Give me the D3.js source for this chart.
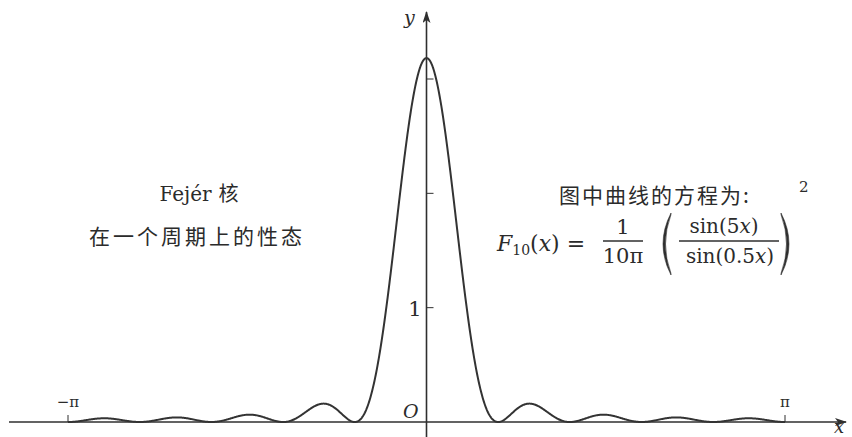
<!DOCTYPE html>
<html>
<head>
<meta charset="utf-8">
<script src="https://cdn.jsdelivr.net/npm/d3@7"></script>
<style>
  html, body { margin: 0; padding: 0; background: #fff; }
  svg { display: block; }
  .serif { font-family: "DejaVu Serif", "Liberation Serif", serif; fill: #2b2b2b; }
  .cjk { font-family: "Noto Sans CJK SC", sans-serif; fill: #2b2b2b; }
</style>
</head>
<body>
<svg id="chart" width="852" height="437"></svg>
<script>
// Fejér kernel parameters: order n and the plotted period
const kernelOrder = [10];
const period = [-Math.PI, Math.PI];

// Axis ticks and their labels
const xTicks = [-Math.PI, Math.PI];
const xTickLabels = ["\u2212\u03C0", "\u03C0"];
const yTicks = [1, 2, 3];
const yTickLabels = ["1", "", ""];

// Annotation text
const titleLines = ["Fejér 核", "在一个周期上的性态"];
const equationCaption = ["图中曲线的方程为:"];

const W = 852, H = 437;
const svg = d3.select("#chart");
const ink = "#2f2f2f";

// Scales: origin at (426, 422), about 114 px per unit on both axes
const x = d3.scaleLinear().domain(period).range([68, 785]);
const y = d3.scaleLinear().domain([0, 3]).range([422, 79]);

// F_n(x) = 1/(nπ) * (sin(n x / 2) / sin(x / 2))^2, limit n/π at x = 0
function fejer(n, t) {
  const s = Math.sin(t / 2);
  if (Math.abs(s) < 1e-9) return n / Math.PI;
  const r = Math.sin(n * t / 2) / s;
  return r * r / (n * Math.PI);
}
const n = kernelOrder[0];
const samples = d3.range(0, 1201).map(i => period[0] + (period[1] - period[0]) * i / 1200);
const curve = samples.map(t => [t, fejer(n, t)]);

// Arrowhead marker
const defs = svg.append("defs");
defs.append("marker")
  .attr("id", "arrow")
  .attr("viewBox", "0 0 12 8")
  .attr("refX", 11).attr("refY", 4)
  .attr("markerWidth", 12).attr("markerHeight", 8)
  .attr("markerUnits", "userSpaceOnUse")
  .attr("orient", "auto")
  .append("path")
  .attr("d", "M0,0 L12,4 L0,8 L3,4 Z")
  .attr("fill", ink);

// x axis
svg.append("line")
  .attr("x1", 9).attr("x2", 846)
  .attr("y1", y(0)).attr("y2", y(0))
  .attr("stroke", ink).attr("stroke-width", 1.6)
  .attr("marker-end", "url(#arrow)");

// y axis
svg.append("line")
  .attr("x1", x(0)).attr("x2", x(0))
  .attr("y1", H).attr("y2", 12)
  .attr("stroke", ink).attr("stroke-width", 1.6)
  .attr("marker-end", "url(#arrow)");

// x ticks (short marks above the axis)
svg.selectAll(".xtick").data(xTicks).enter().append("line")
  .attr("x1", d => x(d)).attr("x2", d => x(d))
  .attr("y1", y(0)).attr("y2", y(0) - 7)
  .attr("stroke", ink).attr("stroke-width", 1);
svg.selectAll(".xlab").data(xTicks).enter().append("text")
  .attr("class", "serif")
  .attr("x", d => x(d)).attr("y", y(0) - 15)
  .attr("text-anchor", "middle")
  .attr("font-size", 15)
  .text((d, i) => xTickLabels[i]);

// y ticks (short marks to the right of the axis)
svg.selectAll(".ytick").data(yTicks).enter().append("line")
  .attr("x1", x(0)).attr("x2", x(0) + 7)
  .attr("y1", d => y(d)).attr("y2", d => y(d))
  .attr("stroke", ink).attr("stroke-width", 1);
svg.selectAll(".ylab").data(yTicks).enter().append("text")
  .attr("class", "serif")
  .attr("x", x(0) - 5).attr("y", d => y(d) + 8)
  .attr("text-anchor", "end")
  .attr("font-size", 21)
  .text((d, i) => yTickLabels[i]);

// axis names and origin
svg.append("text").attr("class", "serif")
  .attr("x", 404).attr("y", 24)
  .attr("font-size", 19).attr("font-style", "italic").text("y");
svg.append("text").attr("class", "serif")
  .attr("x", 834).attr("y", 433)
  .attr("font-size", 18).attr("font-style", "italic").text("x");
svg.append("text").attr("class", "serif")
  .attr("x", 403).attr("y", 418)
  .attr("font-size", 19).attr("font-style", "italic").text("O");

// the kernel curve
const line = d3.line().x(d => x(d[0])).y(d => y(d[1])).curve(d3.curveLinear);
svg.append("path")
  .datum(curve)
  .attr("d", line)
  .attr("fill", "none")
  .attr("stroke", "#333")
  .attr("stroke-width", 2)
  .attr("stroke-linejoin", "round");

// left annotation
const t1 = svg.append("text").attr("class", "serif")
  .attr("x", 199).attr("y", 201)
  .attr("text-anchor", "middle").attr("font-size", 20);
t1.append("tspan").text(titleLines[0].split(" ")[0]);
t1.append("tspan").attr("class", "cjk").attr("dx", 7).attr("font-size", 20)
  .text(titleLines[0].split(" ")[1]);
svg.append("text").attr("class", "cjk")
  .attr("x", 197).attr("y", 244)
  .attr("text-anchor", "middle").attr("font-size", 21)
  .attr("letter-spacing", 3)
  .text(titleLines[1]);

// right annotation: caption and equation
svg.append("text").attr("class", "cjk")
  .attr("x", 655).attr("y", 203)
  .attr("text-anchor", "middle").attr("font-size", 21)
  .attr("letter-spacing", 2)
  .text(equationCaption[0]);

const eq = svg.append("g").attr("class", "serif");
const lhs = eq.append("text").attr("x", 497).attr("y", 251).attr("font-size", 22);
lhs.append("tspan").attr("font-style", "italic").text("F");
lhs.append("tspan").attr("font-size", 14).attr("dy", 4).text("10");
lhs.append("tspan").attr("dy", -4).text("(");
lhs.append("tspan").attr("font-style", "italic").text("x");
lhs.append("tspan").text(")");
eq.append("text").attr("x", 576).attr("y", 251).attr("font-size", 22)
  .attr("text-anchor", "middle").text("=");

// 1 / (10π)
eq.append("text").attr("x", 623).attr("y", 234).attr("font-size", 21)
  .attr("text-anchor", "middle").text("1");
eq.append("line").attr("x1", 603).attr("x2", 643).attr("y1", 241).attr("y2", 241)
  .attr("stroke", ink).attr("stroke-width", 1.3);
eq.append("text").attr("x", 623).attr("y", 263).attr("font-size", 21)
  .attr("text-anchor", "middle").text("10\u03C0");

// big parentheses
function paren(cx, dir) {
  const top = 213, bot = 275, mid = (top + bot) / 2;
  const outer = cx - dir * 16, inner = cx - dir * 11;
  return `M${cx},${top} Q${outer},${mid} ${cx},${bot} L${cx},${bot - 1.5} Q${inner},${mid} ${cx},${top + 1.5} Z`;
}
eq.append("path").attr("d", paren(671, 1)).attr("fill", ink).attr("stroke", ink).attr("stroke-width", 0.6);
eq.append("path").attr("d", paren(781, -1)).attr("fill", ink).attr("stroke", ink).attr("stroke-width", 0.6);

// sin(5x) / sin(0.5x)
const num = eq.append("text").attr("x", 724).attr("y", 233).attr("font-size", 20)
  .attr("text-anchor", "middle");
num.append("tspan").text("sin(5");
num.append("tspan").attr("font-style", "italic").text("x");
num.append("tspan").text(")");
eq.append("line").attr("x1", 679).attr("x2", 779).attr("y1", 241).attr("y2", 241)
  .attr("stroke", ink).attr("stroke-width", 1.3);
const den = eq.append("text").attr("x", 730).attr("y", 263).attr("font-size", 20)
  .attr("text-anchor", "middle");
den.append("tspan").text("sin(0.5");
den.append("tspan").attr("font-style", "italic").text("x");
den.append("tspan").text(")");

eq.append("text").attr("x", 799).attr("y", 192).attr("font-size", 15).text("2");
</script>
</body>
</html>
